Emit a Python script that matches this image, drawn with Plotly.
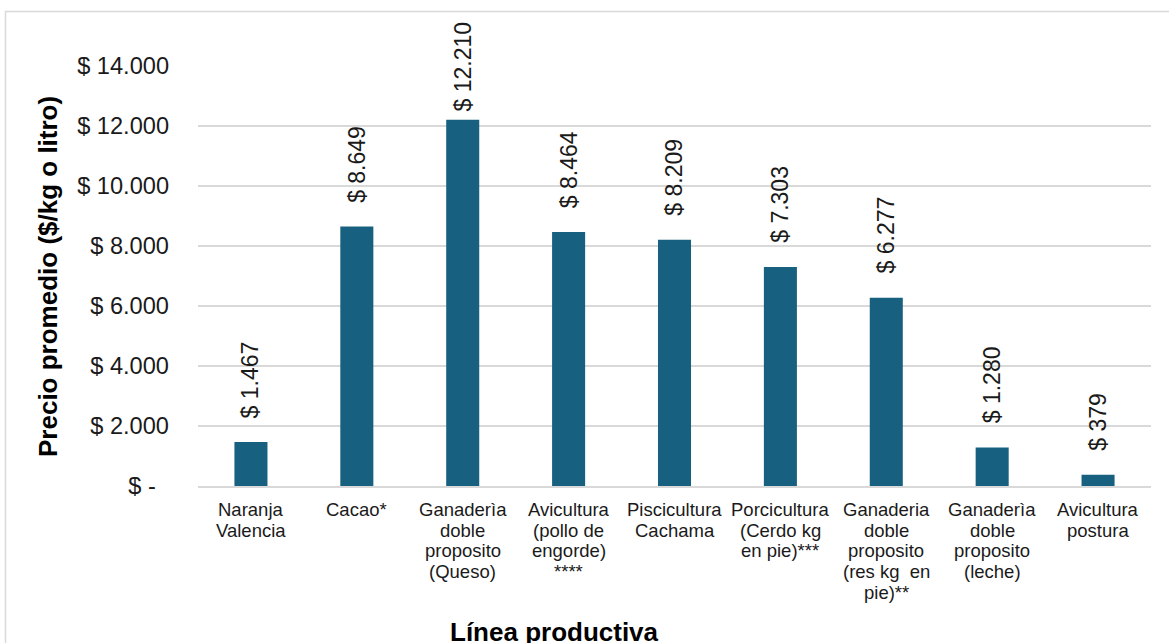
import plotly.graph_objects as go

# Data
categorias = [
    "Naranja<br>Valencia",
    "Cacao*",
    "Ganaderìa<br>doble<br>proposito<br>(Queso)",
    "Avicultura<br>(pollo de<br>engorde)<br>****",
    "Piscicultura<br>Cachama",
    "Porcicultura<br>(Cerdo kg<br>en pie)***",
    "Ganaderia<br>doble<br>proposito<br>(res kg\u00a0\u00a0en<br>pie)**",
    "Ganaderìa<br>doble<br>proposito<br>(leche)",
    "Avicultura<br>postura",
]
precios = [1467, 8649, 12210, 8464, 8209, 7303, 6277, 1280, 379]
y_ticks = [0, 2000, 4000, 6000, 8000, 10000, 12000, 14000]
y_tick_text = ["$ -\u00a0\u00a0", "$ 2.000", "$ 4.000", "$ 6.000", "$ 8.000",
               "$ 10.000", "$ 12.000", "$ 14.000"]

# Layout constants
W, H = 1169, 643
ML, MR, MT, MB = 198, 18, 66, 157
PW, PH = W - ML - MR, H - MT - MB
FONT = "Liberation Sans, Arial, sans-serif"
TXT = "#1a1a1a"
GRID = "#d9d9d9"
BAR = "#17607f"


def px_x(p):
    return (p - ML) / PW


def px_y(p):
    return (H - MB - p) / PH


def moneda(v):
    return "$ " + f"{v:,}".replace(",", ".")


xs = list(range(len(categorias)))

fig = go.Figure(go.Bar(x=xs, y=precios, marker_color=BAR, marker_line_width=0,
                       hoverinfo="skip"))

annotations = []

# Value labels above the bars (the tallest one is pulled down to stay inside the frame)
for i, v in enumerate(precios):
    shift = 6 if v == max(precios) else 22
    annotations.append(dict(
        x=i, y=v, xref="x", yref="y", text=moneda(v), textangle=-90,
        showarrow=False, xanchor="center", yanchor="bottom", yshift=shift,
        font=dict(family=FONT, size=23, color=TXT)))

# Category labels, one annotation per line for tighter line spacing
for i, cat in enumerate(categorias):
    for j, line in enumerate(cat.split("<br>")):
        annotations.append(dict(
            x=i, y=0, xref="x", yref="paper", text=line, showarrow=False,
            xanchor="center", yanchor="middle", yshift=-(23.4 + 20.7 * j),
            font=dict(family=FONT, size=18.5, color=TXT)))

# Axis titles
annotations.append(dict(
    x=px_x(48), y=px_y(277), xref="paper", yref="paper",
    text="<b>Precio promedio ($/kg o litro)</b>", textangle=-90, showarrow=False,
    xanchor="center", yanchor="middle", font=dict(family=FONT, size=26, color="#000")))
annotations.append(dict(
    x=px_x(554.5), y=px_y(632), xref="paper", yref="paper",
    text="<b>Línea productiva</b>", showarrow=False,
    xanchor="center", yanchor="middle", font=dict(family=FONT, size=26, color="#000")))

# Chart frame
shapes = [dict(type="rect", xref="paper", yref="paper",
               x0=px_x(5.5), y0=px_y(700), x1=px_x(1200), y1=px_y(11.5),
               line=dict(color=GRID, width=1.5), fillcolor="rgba(0,0,0,0)", layer="below")]

fig.update_layout(
    width=W, height=H,
    margin=dict(l=ML, r=MR, t=MT, b=MB, pad=0),
    paper_bgcolor="white", plot_bgcolor="white",
    bargap=0.688, showlegend=False,
    annotations=annotations, shapes=shapes,
    xaxis=dict(range=[-0.5, len(categorias) - 0.5], showticklabels=False,
               showgrid=False, zeroline=False, showline=True,
               linecolor=GRID, linewidth=1.5, ticks=""),
    yaxis=dict(range=[0, 14000], tickvals=y_ticks, ticktext=y_tick_text,
               showgrid=True, gridcolor=GRID, gridwidth=1.5, zeroline=False,
               showline=False, ticks="", ticklabelstandoff=28,
               tickfont=dict(family=FONT, size=23.6, color=TXT)),
)

fig.write_html("out.html")
